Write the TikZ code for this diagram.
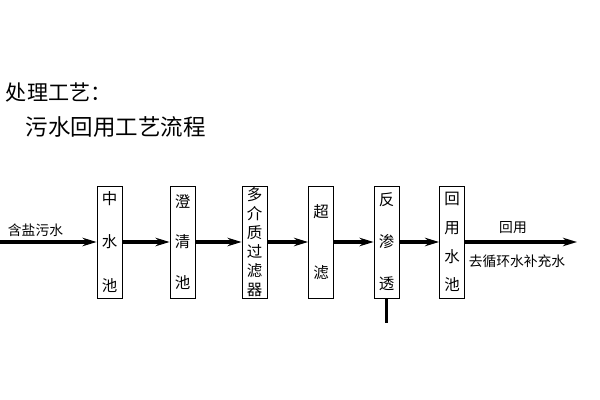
\documentclass[tikz,border=0pt]{standalone}
\usepackage{fontspec}
\newfontfamily\cjk{Noto Sans CJK SC}
\usetikzlibrary{arrows.meta}

\begin{document}
\begin{tikzpicture}[x=0.025cm,y=-0.025cm,>={Stealth[length=10pt,width=6pt]},flow/.style={->,line width=2.5pt}]
  \tikzstyle{unit}=[draw,line width=0.6pt,minimum width=25*0.025cm,minimum height=112*0.025cm,inner sep=0pt,align=center]
  \tikzstyle{label}=[font=\cjk\fontsize{9.8}{11}\selectfont]
  \useasboundingbox (0,0) rectangle (600,400);

  % headings
  \node[anchor=west,font=\cjk\fontsize{15}{18}\selectfont] (head) at (1,92) {处理工艺：};
  \node[anchor=west,font=\cjk\fontsize{16}{19}\selectfont] (sub) at (21,127) {污水回用工艺流程};

  % process units
  \node[unit,font=\cjk\fontsize{11}{31}\selectfont] (zs) at (109.5,242) {中\\水\\池};
  \node[unit,font=\cjk\fontsize{11}{29}\selectfont] (cq) at (182.5,242) {澄\\清\\池};
  \node[unit,font=\cjk\fontsize{11}{13.5}\selectfont] (dj) at (254.5,242) {多\\介\\质\\过\\滤\\器};
  \node[unit,font=\cjk\fontsize{11}{43}\selectfont] (cl) at (321,242) {超\\滤};
  \node[unit,font=\cjk\fontsize{11}{30}\selectfont] (fs) at (386.5,242) {反\\渗\\透};
  \node[unit,font=\cjk\fontsize{11}{20.5}\selectfont] (hy) at (452,242) {回\\用\\水\\池};

  \coordinate (in) at (0,242);
  \coordinate (out) at (577,242);
  \coordinate (fsdown) at (386.5,323);

  % connectors
  \draw[flow] (in) -- (zs);
  \draw[flow] (zs) -- (cq);
  \draw[flow] (cq) -- (dj);
  \draw[flow] (dj) -- (cl);
  \draw[flow] (cl) -- (fs);
  \draw[flow] (fs) -- (hy);
  \draw[flow] (hy) -- (out);
  \draw[line width=2pt] (fs) -- (fsdown);

  % labels
  \node[label,anchor=west] (raw) at (3,230) {含盐污水};
  \node[label] (reuse) at (513,228) {回用};
  \node[label] (dest) at (517,261) {去循环水补充水};
\end{tikzpicture}
\end{document}
